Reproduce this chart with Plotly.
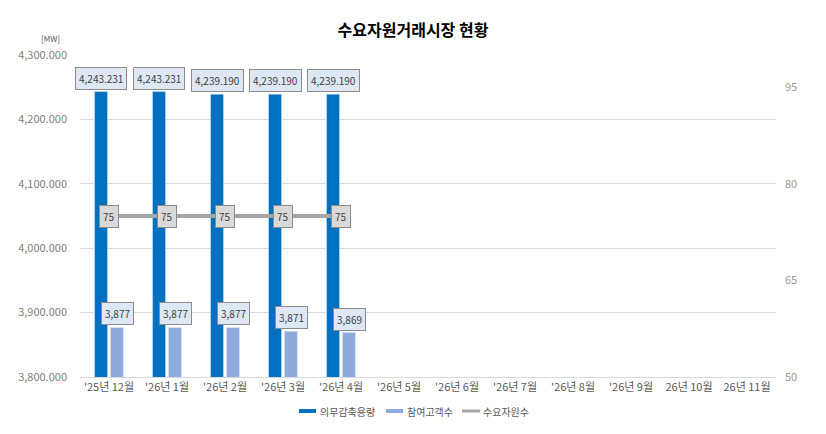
import plotly.graph_objects as go

categories = ["'25년 12월", "'26년 1월", "'26년 2월", "'26년 3월", "'26년 4월", "'26년 5월",
              "'26년 6월", "'26년 7월", "'26년 8월", "'26년 9월", "26년 10월", "26년 11월"]
capacity = [4243.231, 4243.231, 4239.190, 4239.190, 4239.190]
customers = [3877, 3877, 3877, 3871, 3869]
resources = [75, 75, 75, 75, 75]
series_names = ["의무감축용량", "참여고객수", "수요자원수"]

FONT = "Noto Sans CJK KR"
TICK = "#595959"
DARK = "#0070c0"
LIGHT = "#8faadc"
LINEC = "#a6a6a6"
GRID = "#d9d9d9"

W, H = 826, 434
ML, MR, MT, MB = 80, 50, 55, 57
PW, PH = W - ML - MR, H - MT - MB


def px(x):
    return (x - ML) / PW


def py(y):
    return (H - MB - y) / PH


n = len(capacity)
fig = go.Figure()
fig.add_trace(go.Bar(x=categories[:n], y=capacity, name=series_names[0], marker_color=DARK,
                     yaxis="y"))
fig.add_trace(go.Bar(x=categories[:n], y=customers, name=series_names[1], marker_color=LIGHT,
                     yaxis="y"))
fig.add_trace(go.Scatter(x=categories[:n], y=resources, name=series_names[2], mode="lines",
                         line=dict(color=LINEC, width=4), yaxis="y2"))
fig.add_trace(go.Scatter(x=categories, y=[None]*len(categories), showlegend=False,
                         hoverinfo="skip", yaxis="y"))

lblfont = dict(family=FONT, size=10, color="#404040")
ann = []
for c, v in zip(categories, capacity):
    ann.append(dict(x=c, y=v, xref="x", yref="y", text=f"{v:,.3f}", showarrow=False,
                    yanchor="bottom", xshift=-8, yshift=2, bgcolor="#dde8f4",
                    bordercolor="#8c8c8c", borderwidth=1, borderpad=3, font=lblfont))
for c, v in zip(categories, customers):
    ann.append(dict(x=c, y=v, xref="x", yref="y", text=f"{v:,d}", showarrow=False,
                    yanchor="bottom", xshift=8, yshift=2, bgcolor="#dde8f4",
                    bordercolor="#8c8c8c", borderwidth=1, borderpad=3, font=lblfont))
for c, v in zip(categories, resources):
    ann.append(dict(x=c, y=v, xref="x", yref="y2", text=f"{v}", showarrow=False,
                    yanchor="middle", bgcolor="#d9d9d9",
                    bordercolor="#8c8c8c", borderwidth=1, borderpad=3, font=lblfont))
ann.append(dict(x=px(62), y=py(46), xref="paper", yref="paper", text="[MW]", showarrow=False,
                xanchor="right", yanchor="bottom",
                font=dict(family=FONT, size=8, color=TICK)))

# custom legend
leg = [(299, 316, 318, DARK, "rect"), (386, 403, 405, LIGHT, "rect"), (462, 480, 481, LINEC, "line")]
shapes = []
for (x0, x1, tx, col, kind), name in zip(leg, series_names):
    if kind == "rect":
        shapes.append(dict(type="rect", xref="paper", yref="paper", x0=px(x0), x1=px(x1),
                           y0=py(413), y1=py(409), fillcolor=col, line=dict(width=0)))
    else:
        shapes.append(dict(type="line", xref="paper", yref="paper", x0=px(x0), x1=px(x1),
                           y0=py(411), y1=py(411), line=dict(color=col, width=3)))
    ann.append(dict(x=px(tx), y=py(411), xref="paper", yref="paper", text=name,
                    showarrow=False, xanchor="left", yanchor="middle",
                    font=dict(family=FONT, size=10, color=TICK)))

fig.update_layout(
    annotations=ann, shapes=shapes,
    width=W, height=H,
    margin=dict(l=ML, r=MR, t=MT, b=MB, autoexpand=False),
    paper_bgcolor="white", plot_bgcolor="white",
    title=dict(text="<b>수요자원거래시장 현황</b>", x=0.5, xanchor="center", y=0.93,
               yanchor="middle", font=dict(family=FONT, size=16, color="#000000")),
    font=dict(family=FONT, size=11, color=TICK),
    barmode="group", bargap=0.45, bargroupgap=0.18,
    xaxis=dict(categoryorder="array", categoryarray=categories, range=[-0.5, 11.5],
               showgrid=False, showline=True, linecolor=GRID, ticks="",
               tickfont=dict(family=FONT, size=11, color=TICK)),
    yaxis=dict(range=[3800, 4300], dtick=100, tickformat=",.3f", showgrid=True,
               gridcolor=GRID, zeroline=False, ticklabelstandoff=12,
               tickfont=dict(family=FONT, size=11, color="#808080")),
    yaxis2=dict(range=[50, 100], tick0=50, dtick=15, overlaying="y", side="right",
                showgrid=False, zeroline=False, ticklabelstandoff=8,
                tickfont=dict(family=FONT, size=11, color="#9a9a9a")),
    showlegend=False,
)
fig.write_html("out.html")
